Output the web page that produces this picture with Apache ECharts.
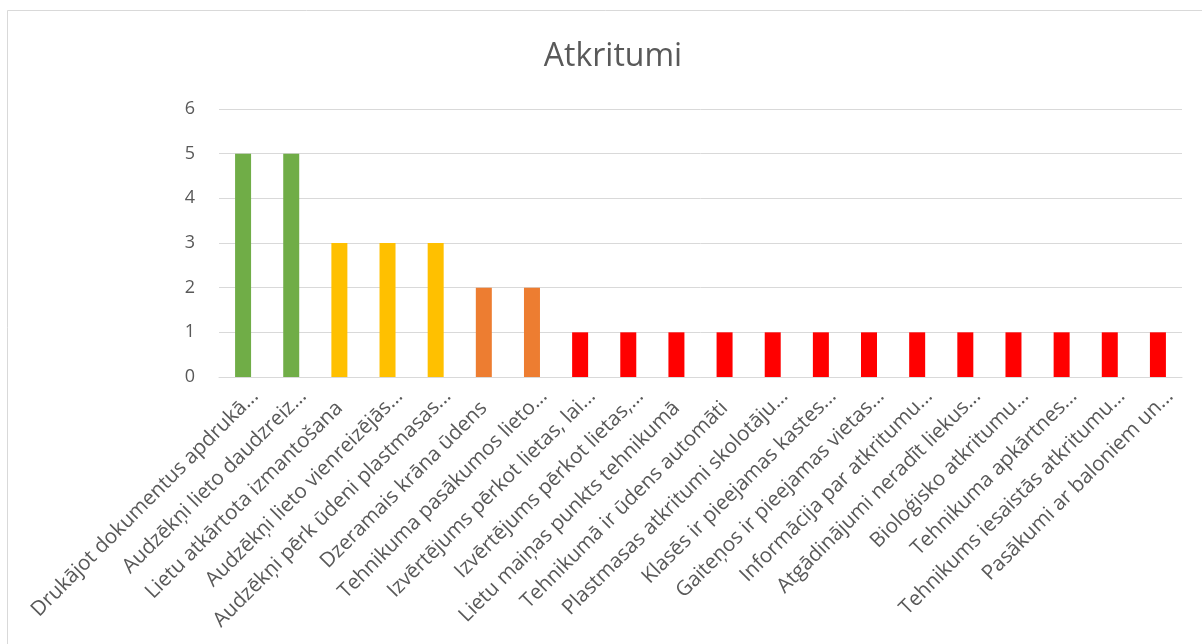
<!DOCTYPE html>
<html>
<head>
<meta charset="utf-8">
<script src="https://cdn.jsdelivr.net/npm/echarts@6/dist/echarts.min.js"></script>
<style>
html,body{margin:0;padding:0;background:#fff;}
#chart{width:1202px;height:644px;}
</style>
</head>
<body>
<div id="chart"></div>
<script>
const title = "Atkritumi";
const categories = [
  "Drukājot dokumentus apdrukā...",
  "Audzēkņi lieto daudzreiz...",
  "Lietu atkārtota izmantošana",
  "Audzēkņi lieto vienreizējās...",
  "Audzēkņi pērk ūdeni plastmasas...",
  "Dzeramais krāna ūdens",
  "Tehnikuma pasākumos lieto...",
  "Izvērtējums pērkot lietas, lai...",
  "Izvērtējums pērkot lietas,...",
  "Lietu maiņas punkts tehnikumā",
  "Tehnikumā ir ūdens automāti",
  "Plastmasas atkritumi skolotāju...",
  "Klasēs ir pieejamas kastes...",
  "Gaiteņos ir pieejamas vietas...",
  "Informācija par atkritumu...",
  "Atgādinājumi neradīt liekus...",
  "Bioloģisko atkritumu...",
  "Tehnikuma apkārtnes...",
  "Tehnikums iesaistās atkritumu...",
  "Pasākumi ar baloniem un..."
];
const values = [5, 5, 3, 3, 3, 2, 2, 1, 1, 1, 1, 1, 1, 1, 1, 1, 1, 1, 1, 1];
const barColors = [
  "#70AD47", "#70AD47",
  "#FFC000", "#FFC000", "#FFC000",
  "#ED7D31", "#ED7D31",
  "#FF0000", "#FF0000", "#FF0000", "#FF0000", "#FF0000", "#FF0000", "#FF0000",
  "#FF0000", "#FF0000", "#FF0000", "#FF0000", "#FF0000", "#FF0000"
];
const yTicks = [0, 1, 2, 3, 4, 5, 6];

const chart = echarts.init(document.getElementById('chart'));
const font = "'Open Sans', 'DejaVu Sans', sans-serif";
chart.setOption({
  animation: false,
  backgroundColor: '#fff',
  title: {
    text: title,
    left: 608, top: 36, textAlign: 'center',
    textStyle: { fontFamily: font, fontSize: 32, fontWeight: 'normal', color: '#595959' }
  },
  graphic: [{
    type: 'rect', silent: true,
    shape: { x: 7.5, y: 10.5, width: 1300, height: 1000 },
    style: { fill: 'none', stroke: '#D9D9D9', lineWidth: 1 }
  }],
  grid: { left: 219, right: 20, top: 109, bottom: 267, containLabel: false },
  xAxis: {
    type: 'category',
    data: categories,
    axisTick: { show: false },
    axisLine: { lineStyle: { color: '#D9D9D9', width: 1 } },
    axisLabel: {
      interval: 0, rotate: 45, margin: 28,
      fontFamily: font, fontSize: 20.6, color: '#595959',
      formatter: function (v) {
        return v.endsWith('...') ? '{x|' + v + '}' : '{t|' + v + '}';
      },
      rich: {
        t: { fontFamily: font, fontSize: 20.6, color: '#595959' },
        x: { fontFamily: font, fontSize: 20.6, color: '#595959', padding: [0, -17, 0, 0] }
      }
    }
  },
  yAxis: {
    type: 'value', min: yTicks[0], max: yTicks[yTicks.length - 1], interval: 1,
    axisLine: { show: false }, axisTick: { show: false },
    splitLine: { lineStyle: { color: '#D9D9D9', width: 1 } },
    axisLabel: { margin: 24, fontFamily: font, fontSize: 18, color: '#595959' }
  },
  series: [{
    type: 'bar',
    barWidth: 16,
    data: values.map((v, i) => ({ value: v, itemStyle: { color: barColors[i] } }))
  }]
});
</script>
</body>
</html>
